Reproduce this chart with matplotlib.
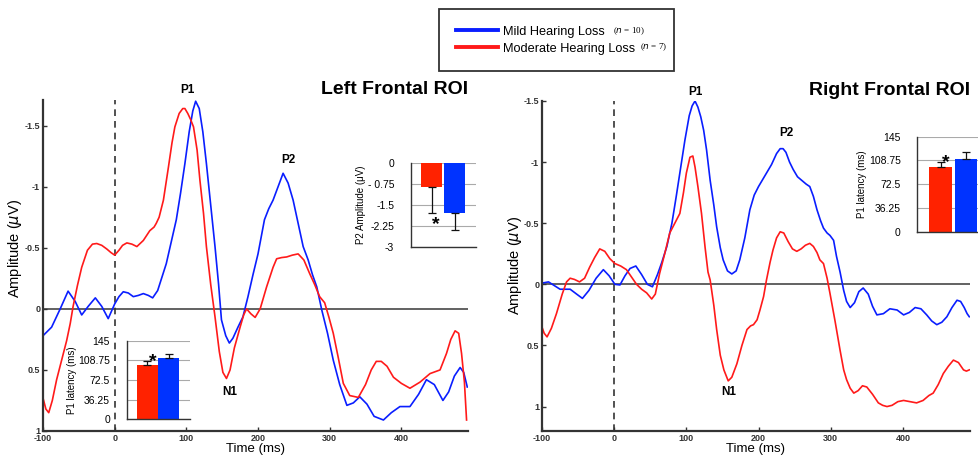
import matplotlib
matplotlib.use("Agg")
import matplotlib.pyplot as plt
import numpy as np

plt.rcParams['font.family'] = ['Liberation Sans', 'DejaVu Sans']
plt.rcParams['axes.unicode_minus'] = False

BLUE = '#0a1eff'
RED = '#ff1a1a'
BAR_RED = '#ff2200'
BAR_BLUE = '#0033ff'

# ---- waveforms (time in ms, amplitude in uV, negative up)
left_mild_t = [-100, -88, -76, -65, -55, -46, -37, -27, -18, -9, 0, 6, 12, 19, 26, 33, 40, 47, 53,
               60, 66, 72, 79, 86, 92, 98, 104, 109, 113, 118, 123, 128, 134, 140, 145, 149, 155, 160,
               165, 172, 179, 186, 193, 200, 209, 215, 221, 228, 235, 242, 249, 256, 263, 270, 276,
               282, 289, 297, 305, 314, 324, 333, 342, 352, 362, 375, 386, 398, 412, 424, 435, 446,
               458, 466, 474, 482, 487, 492]
left_mild_v = [0.22, 0.15, 0.0, -0.145, -0.06, 0.05, -0.02, -0.09, -0.02, 0.08, -0.04, -0.1, -0.14,
               -0.13, -0.1, -0.11, -0.125, -0.11, -0.09, -0.15, -0.26, -0.37, -0.55, -0.73, -0.95,
               -1.19, -1.45, -1.62, -1.70, -1.64, -1.45, -1.19, -0.85, -0.51, -0.2, 0.09, 0.22, 0.28,
               0.24, 0.15, 0.065, -0.1, -0.28, -0.45, -0.73, -0.82, -0.89, -1.0, -1.11, -1.03, -0.89,
               -0.7, -0.51, -0.4, -0.28, -0.18, 0.01, 0.2, 0.42, 0.62, 0.79, 0.77, 0.72, 0.78, 0.88,
               0.91, 0.85, 0.80, 0.80, 0.7, 0.58, 0.62, 0.75, 0.68, 0.55, 0.48, 0.52, 0.64]

left_mod_t = [-100, -96, -92, -87, -81, -74, -67, -62, -58, -52, -46, -38, -31, -25, -18, -11, -5,
              0, 6, 11, 17, 24, 31, 40, 49, 55, 58, 62, 68, 75, 80, 84, 90, 95, 98, 102, 106, 110,
              115, 119, 124, 128, 134, 140, 146, 151, 156, 161, 167, 175, 180, 184, 190, 196, 203,
              212, 221, 226, 233, 240, 248, 256, 264, 272, 279, 286, 293, 299, 305, 312, 319, 328,
              340, 350, 358, 365, 372, 380, 389, 400, 412, 426, 440, 454, 463, 469, 475, 480, 484,
              488, 491]
left_mod_v = [0.73, 0.82, 0.85, 0.75, 0.58, 0.42, 0.26, 0.12, -0.02, -0.19, -0.34, -0.48, -0.53,
              -0.535, -0.52, -0.49, -0.46, -0.44, -0.48, -0.52, -0.54, -0.53, -0.51, -0.56, -0.64,
              -0.67, -0.7, -0.75, -0.89, -1.16, -1.36, -1.49, -1.6, -1.64, -1.64, -1.6, -1.55, -1.49,
              -1.3, -1.05, -0.78, -0.51, -0.2, 0.065, 0.35, 0.52, 0.57, 0.5, 0.32, 0.15, 0.05, 0.0,
              0.04, 0.07, 0.0, -0.18, -0.34, -0.41, -0.42, -0.425, -0.44, -0.45, -0.4, -0.29, -0.2,
              -0.1, -0.05, 0.07, 0.2, 0.4, 0.61, 0.71, 0.725, 0.62, 0.5, 0.43, 0.43, 0.47, 0.56, 0.61,
              0.65, 0.6, 0.53, 0.5, 0.365, 0.25, 0.18, 0.2, 0.365, 0.6, 0.91]

right_mild_t = [-100, -91, -83, -75, -61, -52, -44, -35, -25, -15, -7, 1, 8, 15, 22, 30, 38, 46, 53,
                60, 66, 73, 80, 86, 92, 98, 104, 108, 112, 116, 120, 124, 128, 133, 138, 142, 147,
                151, 157, 163, 169, 174, 181, 188, 194, 200, 206, 211, 218, 225, 230, 234, 238, 243,
                248, 254, 260, 266, 271, 276, 281, 286, 290, 295, 299, 304, 308, 313, 318, 322, 327,
                333, 339, 345, 352, 358, 364, 373, 382, 392, 401, 409, 417, 425, 433, 440, 447, 454,
                461, 468, 475, 480, 485, 489, 492]
right_mild_v = [-0.01, -0.02, 0.01, 0.04, 0.04, 0.08, 0.115, 0.05, -0.05, -0.12, -0.07, 0.0, 0.005,
                -0.07, -0.13, -0.15, -0.08, 0.0, 0.02, -0.08, -0.18, -0.31, -0.5, -0.72, -0.95,
                -1.18, -1.38, -1.46, -1.50, -1.45, -1.37, -1.26, -1.1, -0.85, -0.65, -0.47, -0.3,
                -0.2, -0.11, -0.085, -0.11, -0.2, -0.38, -0.61, -0.73, -0.8, -0.86, -0.91, -0.98,
                -1.07, -1.11, -1.11, -1.08, -1.0, -0.94, -0.88, -0.85, -0.82, -0.8, -0.72, -0.61,
                -0.52, -0.46, -0.42, -0.40, -0.36, -0.23, -0.1, 0.05, 0.14, 0.19, 0.15, 0.06, 0.03,
                0.08, 0.18, 0.25, 0.24, 0.2, 0.21, 0.25, 0.23, 0.19, 0.2, 0.25, 0.3, 0.33, 0.31,
                0.265, 0.19, 0.13, 0.14, 0.19, 0.24, 0.265]

right_mod_t = [-100, -97, -93, -87, -80, -72, -66, -61, -55, -48, -41, -34, -27, -20, -13, -6, 1, 9,
               17, 24, 31, 38, 45, 52, 57, 63, 70, 77, 84, 91, 96, 100, 105, 109, 112, 116, 121, 126,
               130, 133, 138, 142, 147, 152, 158, 163, 170, 177, 184, 189, 193, 198, 202, 207, 211,
               216, 220, 225, 230, 235, 241, 247, 253, 259, 265, 271, 276, 281, 285, 290, 295, 299,
               306, 313, 318, 322, 327, 332, 338, 344, 350, 358, 366, 372, 378, 385, 393, 401, 410,
               419, 428, 436, 442, 449, 456, 463, 470, 477, 484, 488, 492]
right_mod_v = [0.35, 0.4, 0.43, 0.36, 0.24, 0.08, -0.02, -0.05, -0.04, -0.02, -0.05, -0.14, -0.22,
               -0.29, -0.27, -0.21, -0.17, -0.15, -0.12, -0.06, 0.0, 0.04, 0.07, 0.12, 0.08, -0.09,
               -0.25, -0.42, -0.5, -0.58, -0.75, -0.91, -1.04, -1.05, -0.96, -0.8, -0.58, -0.3,
               -0.1, -0.035, 0.17, 0.37, 0.58, 0.7, 0.79, 0.76, 0.65, 0.5, 0.37, 0.34, 0.33, 0.29,
               0.21, 0.1, -0.035, -0.18, -0.28, -0.38, -0.43, -0.42, -0.35, -0.29, -0.27, -0.29,
               -0.32, -0.335, -0.31, -0.26, -0.2, -0.17, -0.05, 0.074, 0.3, 0.54, 0.7, 0.78, 0.85,
               0.89, 0.87, 0.83, 0.84, 0.9, 0.97, 0.99, 1.0, 0.99, 0.96, 0.95, 0.96, 0.97, 0.95,
               0.91, 0.89, 0.82, 0.73, 0.67, 0.62, 0.64, 0.70, 0.71, 0.70]

# ---- inset bar data (Moderate, Mild)
groups = ['Moderate', 'Mild']
left_p1_lat = [99.6, 112.5]
left_p1_err = [8.5, 7.5]
left_p2_amp = [-0.86, -1.79]
left_p2_err = [0.94, 0.62]
right_p1_lat = [98.3, 110.5]
right_p1_err = [7.7, 11.5]

W, H = 979, 455
fig = plt.figure(figsize=(W / 100, H / 100), dpi=100)


def fax(x0, y0, x1, y1):
    # pixel box (left, top, right, bottom) -> figure axes
    return fig.add_axes([x0 / W, 1 - y1 / H, (x1 - x0) / W, (y1 - y0) / H])


def main_panel(ax, xlim, ylim, yticks, ylabels, mild, mod, title, peaks):
    ax.plot(mild[0], mild[1], color=BLUE, lw=1.2, label='Mild Hearing Loss')
    ax.plot(mod[0], mod[1], color=RED, lw=1.2, label='Moderate Hearing Loss')
    ax.axhline(0, color='#555555', lw=1.3, zorder=1)
    ax.axvline(0, color='#333333', lw=1.2, ls=(0, (4, 3)), zorder=1)
    ax.set_xlim(*xlim)
    ax.set_ylim(*ylim)
    ax.set_yticks(yticks)
    ax.set_yticklabels(ylabels)
    ax.set_xticks([-100, 0, 100, 200, 300, 400])
    for s in ['top', 'right']:
        ax.spines[s].set_visible(False)
    for s in ['left', 'bottom']:
        ax.spines[s].set_color('#333333')
        ax.spines[s].set_linewidth(1.6)
    ax.tick_params(direction='in', length=3, width=1, labelsize=6.5, labelcolor='#333333',
                   color='#333333', pad=2)
    for lab in ax.get_xticklabels() + ax.get_yticklabels():
        lab.set_fontweight('bold')
    ax.set_xlabel('Time (ms)', fontsize=9.5, labelpad=0)
    ax.set_ylabel(r'Amplitude ($\mu$V)', fontsize=10.5)
    ax.set_facecolor('none')
    ax.set_title(title, fontsize=14, fontweight='bold', loc='right', pad=4)
    for txt, t, v in peaks:
        ax.text(t, v, txt, fontsize=8.5, fontweight='bold', ha='center', va='center', clip_on=False)


axL = fax(43, 100, 468, 431)
main_panel(axL, (-100, 493), (1.0, -1.71), [-1.5, -1, -0.5, 0, 0.5, 1],
           ['-1.5', '-1', '-0.5', '0', '0.5', '1'],
           (left_mild_t, left_mild_v), (left_mod_t, left_mod_v), 'Left Frontal ROI',
           [('P1', 102, -1.79), ('P2', 242, -1.22), ('N1', 161, 0.68)])
axL.yaxis.set_label_coords(-0.045, 0.55)

axR = fax(542, 101, 970, 431)
main_panel(axR, (-100, 493), (1.2, -1.5), [-1.5, -1, -0.5, 0, 0.5, 1],
           ['-1.5', '-1', '-0.5', '0', '0.5', '1'],
           (right_mild_t, right_mild_v), (right_mod_t, right_mod_v), 'Right Frontal ROI',
           [('P1', 112, -1.57), ('P2', 239, -1.24), ('N1', 159, 0.88)])
axR.yaxis.set_label_coords(-0.043, 0.5)


def bar_inset(ax, vals, errs, ylim, yticks, ylabels, ylabel, xlim, width, star, down=False):
    x = np.arange(len(vals))
    ax.bar(x, vals, width=width, color=[BAR_RED, BAR_BLUE], zorder=2)
    lo = [e if down else 0 for e in errs]
    hi = [0 if down else e for e in errs]
    ax.errorbar(x, vals, yerr=[lo, hi], fmt='none', ecolor='#111111', elinewidth=0.9,
                capsize=3, capthick=0.9, zorder=3)
    ax.set_ylim(*ylim)
    ax.set_xlim(*xlim)
    ax.set_yticks(yticks)
    ax.set_yticklabels(ylabels)
    ax.set_xticks([])
    ax.yaxis.grid(True, color='#aaaaaa', lw=0.8, zorder=0)
    ax.set_axisbelow(True)
    ax.set_facecolor('none')
    for s in ['top', 'right']:
        ax.spines[s].set_visible(False)
    for s in ['left', 'bottom']:
        ax.spines[s].set_color('#333333')
        ax.spines[s].set_linewidth(1.0)
    ax.tick_params(axis='y', length=0, labelsize=7.5, pad=12)
    ax.set_ylabel(ylabel, fontsize=7, labelpad=1)
    ax.text(star[0], star[1], '*', fontsize=14, fontweight='bold', ha='center', va='center',
            zorder=4)


lat_ticks = [0, 36.25, 72.5, 108.75, 145]
lat_labels = ['0', '36.25', '72.5', '108.75', '145']

ins1 = fax(126.7, 340.7, 190, 419.3)
bar_inset(ins1, left_p1_lat, left_p1_err, (0, 145), lat_ticks, lat_labels, 'P1 latency (ms)',
          (-0.95, 1.97), 0.97, (0.25, 106))

ins2 = fax(410.7, 163.3, 476, 246.7)
bar_inset(ins2, left_p2_amp, left_p2_err, (-3, 0), [0, -0.75, -1.5, -2.25, -3],
          ['0', '- 0.75', '-1.5', '-2.25', '-3'], 'P2 Amplitude (μV)',
          (-0.92, 1.94), 0.94, (0.18, -2.2), down=True)

ins3 = fax(917.3, 136.7, 979, 231.7)
bar_inset(ins3, right_p1_lat, right_p1_err, (0, 145), lat_ticks, lat_labels, 'P1 latency (ms)',
          (-0.91, 1.51), 0.9, (0.22, 106))

# ---- legend
h1, h2 = axL.get_lines()[:2]
leg = fig.legend([h1, h2], ['Mild Hearing Loss', 'Moderate Hearing Loss'], loc='upper left',
                 bbox_to_anchor=(439 / W, 1 - 62 / H, 235 / W, 53 / H), mode='expand',
                 fancybox=False, edgecolor='black', fontsize=9.2, handlelength=3.3,
                 handletextpad=0.4, labelspacing=0.4, borderpad=1.3, borderaxespad=0)
leg.get_frame().set_linewidth(1.3)
for ln in leg.get_lines():
    ln.set_linewidth(2.8)
fig.text(613 / W, 1 - 31 / H, r'($\it{n}$ = 10)', fontsize=6.5, family='Liberation Serif',
         va='center', zorder=10)
fig.text(640 / W, 1 - 47 / H, r'($\it{n}$ = 7)', fontsize=6.5, family='Liberation Serif',
         va='center', zorder=10)

fig.savefig('out.png', dpi=100)
